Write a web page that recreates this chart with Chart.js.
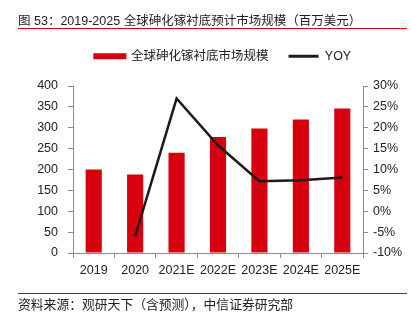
<!DOCTYPE html>
<html><head><meta charset="utf-8">
<script src="https://cdn.jsdelivr.net/npm/chart.js@4"></script>
<style>
html,body{margin:0;padding:0;background:#fff;}
#wrap{position:relative;width:412px;height:321px;overflow:hidden;font-family:"Liberation Sans","Noto Sans CJK SC",sans-serif;}
#title{position:absolute;left:18px;top:14px;font-size:12.5px;line-height:14px;color:#222;white-space:nowrap;}
#tline{position:absolute;left:18px;width:389px;top:28px;height:1px;background:#d7000f;}
#fline{position:absolute;left:18px;width:389px;top:293px;height:1px;background:#d7000f;}
#foot{position:absolute;left:18px;top:298px;font-size:12.8px;line-height:14px;color:#222;white-space:nowrap;}
#c{position:absolute;left:0;top:0;}
</style></head>
<body><div id="wrap">
<canvas id="c" width="412" height="321"></canvas>
<div id="title">图 53：2019-2025 全球砷化镓衬底预计市场规模（百万美元）</div>
<div id="tline"></div>
<div id="fline"></div>
<div id="foot">资料来源：观研天下（含预测），中信证券研究部</div>
</div>
<script>
const categories = ['2019','2020','2021E','2022E','2023E','2024E','2025E'];
const marketSize = [200, 188, 240, 278, 298, 320, 346];
const yoy = [null, -6, 27, 15.8, 7.2, 7.4, 8.1];
const leftTicks = [0, 400, 50];
const rightTicks = [-10, 30, 5];
const seriesNames = ['全球砷化镓衬底市场规模', 'YOY'];

const RED = '#d7000f', DARK = '#231815', AXIS = '#8c8c8c';
const FONT = {family: '"Liberation Sans","Noto Sans CJK SC",sans-serif', size: 12.5};

const legendTweak = {
  id: 'legendTweak',
  beforeInit(chart) {
    const fit = chart.legend.fit;
    chart.legend.fit = function() { fit.call(this); this.height = 56; };
  },
  afterLayout(chart) {
    chart.legend.left += 17;
    chart.legend.right += 17;
  }
};

new Chart(document.getElementById('c'), {
  type: 'bar',
  data: {
    labels: categories,
    datasets: [
      {label: seriesNames[0], data: marketSize, backgroundColor: RED, yAxisID: 'y', order: 2,
       barPercentage: 0.39, categoryPercentage: 1},
      {type: 'line', label: seriesNames[1], data: yoy, borderColor: DARK, backgroundColor: DARK,
       borderWidth: 2.5, pointRadius: 0, tension: 0, yAxisID: 'y1', order: 1, spanGaps: false}
    ]
  },
  options: {
    responsive: false, animation: false, devicePixelRatio: 1,
    layout: {padding: {top: 30, left: 0, right: 0, bottom: 0}},
    plugins: {
      tooltip: {enabled: false},
      legend: {
        position: 'top', fullSize: true, align: 'center',
        labels: {
          font: FONT, color: '#222', boxWidth: 30, boxHeight: 3, padding: 20,
          generateLabels(chart) {
            const items = Chart.defaults.plugins.legend.labels.generateLabels(chart);
            items.forEach(it => {
              if (it.datasetIndex === 0) { it.fillStyle = RED; it.strokeStyle = RED; it.lineWidth = 3; }
              else { it.fillStyle = DARK; it.strokeStyle = DARK; it.lineWidth = 0; }
            });
            return items.sort((a, b) => a.datasetIndex - b.datasetIndex);
          }
        }
      }
    },
    scales: {
      x: {
        grid: {display: true, drawOnChartArea: false, drawTicks: true, tickLength: 5, color: AXIS, offset: true},
        border: {display: true, color: AXIS},
        ticks: {font: FONT, color: '#222', padding: 5, maxRotation: 0},
        afterFit(s) { s.height = 68; }
      },
      y: {
        position: 'left', min: leftTicks[0], max: leftTicks[1],
        ticks: {stepSize: leftTicks[2], font: FONT, color: '#222', padding: 10},
        grid: {drawOnChartArea: false, drawTicks: true, tickLength: 5, color: AXIS},
        border: {display: true, color: AXIS},
        afterFit(s) { s.width = 73; }
      },
      y1: {
        position: 'right', min: rightTicks[0], max: rightTicks[1],
        ticks: {stepSize: rightTicks[2], font: FONT, color: '#222', padding: 5, callback: v => v + '%'},
        grid: {drawOnChartArea: false, drawTicks: true, tickLength: 5, color: AXIS},
        border: {display: true, color: AXIS},
        afterFit(s) { s.width = 49; }
      }
    }
  },
  plugins: [legendTweak]
});
</script>
</body></html>
